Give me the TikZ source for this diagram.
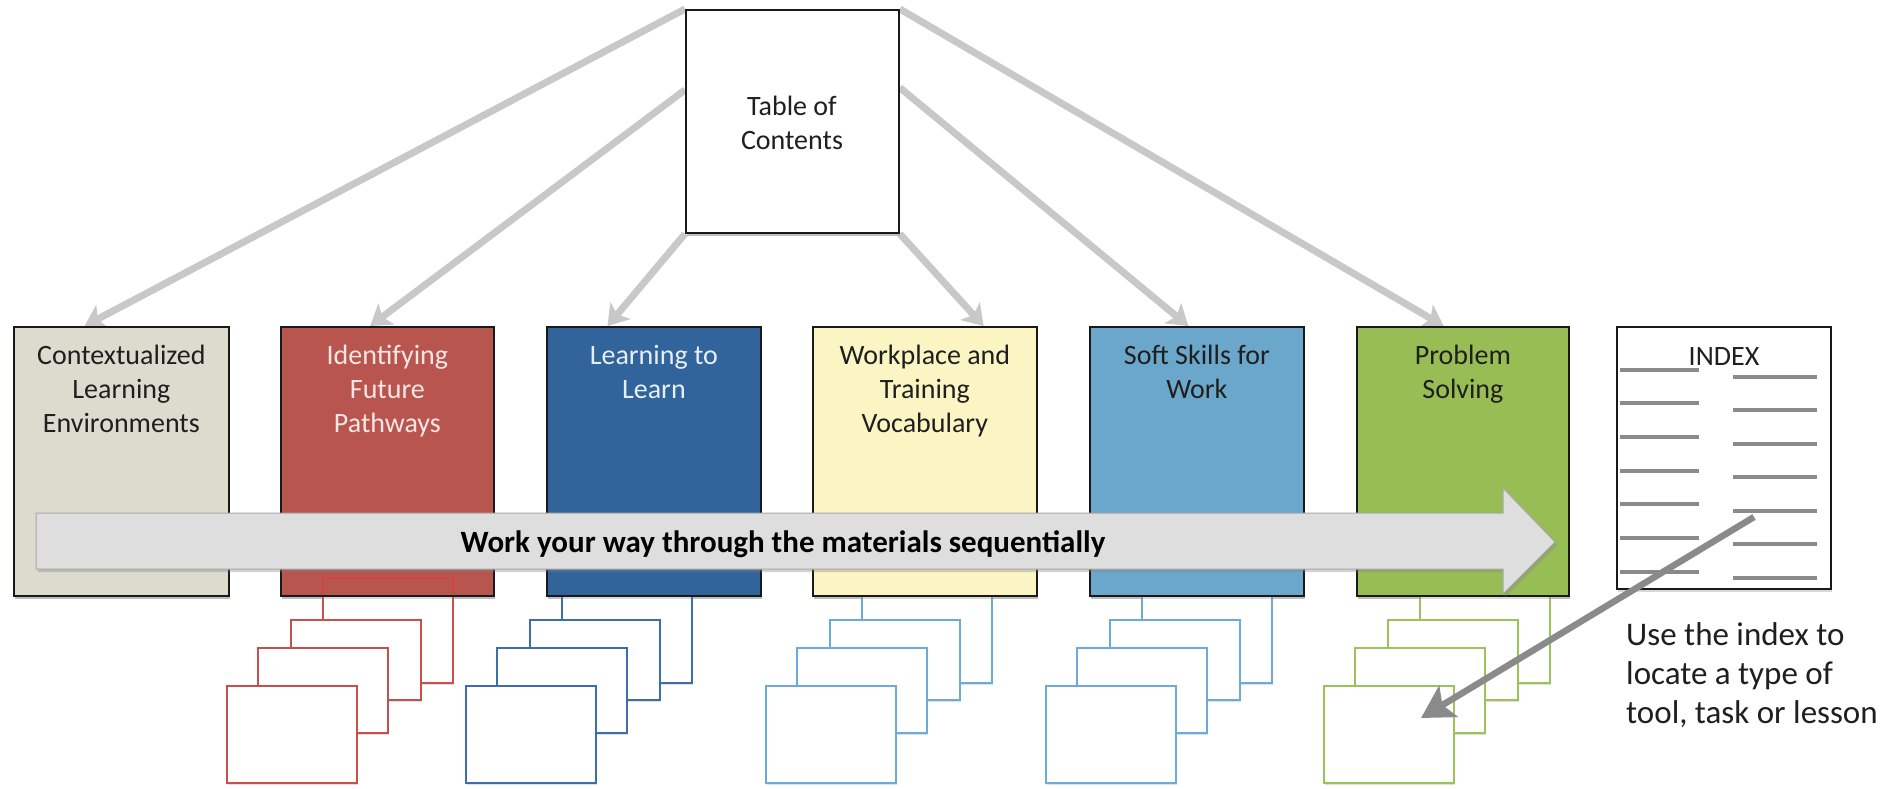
\documentclass[tikz,border=0pt]{standalone}
\usepackage{fontspec}
\setmainfont{Carlito}
\usetikzlibrary{arrows.meta,shadows,calc}
\definecolor{cbeige}{HTML}{DDDACE}
\definecolor{cred}{HTML}{B9554F}
\definecolor{cblue}{HTML}{30649A}
\definecolor{cyellow}{HTML}{FBF4C3}
\definecolor{csky}{HTML}{6BA7CA}
\definecolor{cgreen}{HTML}{98BD55}
\definecolor{sred}{HTML}{C8504C}
\definecolor{sredover}{HTML}{D24444}
\definecolor{sblue}{HTML}{3C6EAF}
\definecolor{slight}{HTML}{6EAAD7}
\definecolor{sgreen}{HTML}{9BC35A}
\definecolor{tocline}{HTML}{C8C8C8}
\definecolor{arrfill}{HTML}{DEDEDE}
\definecolor{arredge}{HTML}{A8A8A8}
\definecolor{idxgray}{HTML}{8A8A8A}
\definecolor{darktext}{HTML}{1F1F1F}
\definecolor{pinkwhite}{HTML}{F8E6E4}
\definecolor{bluewhite}{HTML}{E8EEF6}
\newcommand\pagestack[2]{%
  \foreach \dx/\ya/\yb in {0/578/683,-32/620/700,-65/648/733,-96/686/783}
    \draw[pagebox,draw=#1] ({#2+\dx},\ya) rectangle ({#2+\dx+130},\yb);
}
\begin{document}
\begin{tikzpicture}[x=1pt,y=-1pt,
  secbox/.style={draw=black!90,line width=1.8pt,anchor=north west,inner sep=0pt,
    drop shadow={shadow xshift=1.5pt,shadow yshift=-3pt,opacity=0.3}},
  boxtext/.style={font=\fontsize{28}{34}\selectfont,align=center,inner sep=0pt,anchor=north,text=darktext},
  tocarrow/.style={draw=tocline,line width=7pt,-{Stealth[length=20pt,width=26pt,inset=5pt]}},
  pagebox/.style={fill=white,line width=2.5pt,
    drop shadow={shadow xshift=1pt,shadow yshift=-2pt,opacity=0.25}},
  bigarrow/.style={fill=arrfill,draw=arredge,line width=1pt,
    drop shadow={shadow xshift=2pt,shadow yshift=-3pt,opacity=0.35}},
  idxline/.style={draw=idxgray,line width=4pt},
  idxarrow/.style={draw=idxgray,line width=6.5pt,-{Stealth[length=32pt,width=36pt,inset=7pt]}}
]
\useasboundingbox (0,0) rectangle (1904,789);
\fill[white] (0,0) rectangle (1904,789);

% table of contents box geometry
\node[secbox,fill=white,minimum width=213pt,minimum height=223pt] (toc) at (685,9) {};

% section boxes (geometry)
\path node[secbox,fill=cbeige,minimum width=215pt,minimum height=269pt] (b1) at (13,326) {}
      node[secbox,fill=cred,minimum width=213pt,minimum height=269pt] (b2) at (280,326) {}
      node[secbox,fill=cblue,minimum width=214pt,minimum height=269pt] (b3) at (546,326) {}
      node[secbox,fill=cyellow,minimum width=224pt,minimum height=269pt] (b4) at (812,326) {}
      node[secbox,fill=csky,minimum width=214pt,minimum height=269pt] (b5) at (1089,326) {}
      node[secbox,fill=cgreen,minimum width=212pt,minimum height=269pt] (b6) at (1356,326) {};

% arrows from the table of contents
\draw[tocarrow] (toc.north west) -- ($(b1.north west)!0.33!(b1.north east)$);
\draw[tocarrow] ($(toc.north west)!0.36!(toc.south west)$) -- ($(b2.north west)!0.42!(b2.north east)$);
\draw[tocarrow] (toc.south west) -- ($(b3.north west)!0.285!(b3.north east)$);
\draw[tocarrow] (toc.south east) -- ($(b4.north west)!0.76!(b4.north east)$);
\draw[tocarrow] ($(toc.north east)!0.35!(toc.south east)$) -- ($(b5.north west)!0.46!(b5.north east)$);
\draw[tocarrow] (toc.north east) -- ($(b6.north west)!0.41!(b6.north east)$);

% the table of contents box on top of the arrow starts
\node[secbox,fill=white,minimum width=213pt,minimum height=223pt] (toc2) at (685,9) {};
\node[boxtext,anchor=center] (toct) at (792,123) {Table of\\Contents};

% page stacks
\pagestack{sred}{323}
\pagestack{sblue}{562}
\pagestack{slight}{862}
\pagestack{slight}{1142}
\pagestack{sgreen}{1420}

% section boxes on top
\node[secbox,fill=cbeige,minimum width=215pt,minimum height=269pt] (c1) at (13,326) {};
\node[secbox,fill=cred,minimum width=213pt,minimum height=269pt] (c2) at (280,326) {};
\node[secbox,fill=cblue,minimum width=214pt,minimum height=269pt] (c3) at (546,326) {};
\node[secbox,fill=cyellow,minimum width=224pt,minimum height=269pt] (c4) at (812,326) {};
\node[secbox,fill=csky,minimum width=214pt,minimum height=269pt] (c5) at (1089,326) {};
\node[secbox,fill=cgreen,minimum width=212pt,minimum height=269pt] (c6) at (1356,326) {};

% back page of the red stack shows through
\draw[sredover,line width=2.5pt] (323,594) -- (323,578) -- (453,578) -- (453,594);

% box texts
\node[boxtext] (t1) at ($(c1.north)+(0,19)$) {Contextualized\\Learning\\Environments};
\node[boxtext,text=pinkwhite] (t2) at ($(c2.north)+(0,19)$) {Identifying\\Future\\Pathways};
\node[boxtext,text=bluewhite] (t3) at ($(c3.north)+(0,19)$) {Learning to\\Learn};
\node[boxtext] (t4) at ($(c4.north)+(0,19)$) {Workplace and\\Training\\Vocabulary};
\node[boxtext] (t5) at ($(c5.north)+(0,19)$) {Soft Skills for\\Work};
\node[boxtext] (t6) at ($(c6.north)+(0,19)$) {Problem\\Solving};

% big sequential arrow
\draw[bigarrow] (36,513) -- (1503,513) -- (1503,488) -- (1555,542) -- (1503,594) -- (1503,569) -- (36,569) -- cycle;
\node[font=\fontsize{31}{36}\selectfont\bfseries,text=black,inner sep=0pt,anchor=base] (seq) at (783,552) {Work your way through the materials sequentially};

% index
\node[secbox,fill=white,minimum width=214pt,minimum height=262pt] (idx) at (1616,326) {};
\node[boxtext,anchor=center] (idxt) at (1724,357) {INDEX};
\foreach \y in {370,403,437,471,504,538,572} \draw[idxline] (1620,\y) -- (1699,\y);
\foreach \y in {377,410,444,477,511,544,578} \draw[idxline] (1733,\y) -- (1817,\y);

\coordinate (ia) at (1754,517);
\coordinate (ib) at (1421,718);
\draw[idxarrow] (ia) -- (ib);

\node[anchor=north west,align=left,font=\fontsize{33}{39}\selectfont,inner sep=0pt,text=darktext] (note) at (1626,622) {Use the index to\\locate a type of\\tool, task or lesson};
\end{tikzpicture}
\end{document}
